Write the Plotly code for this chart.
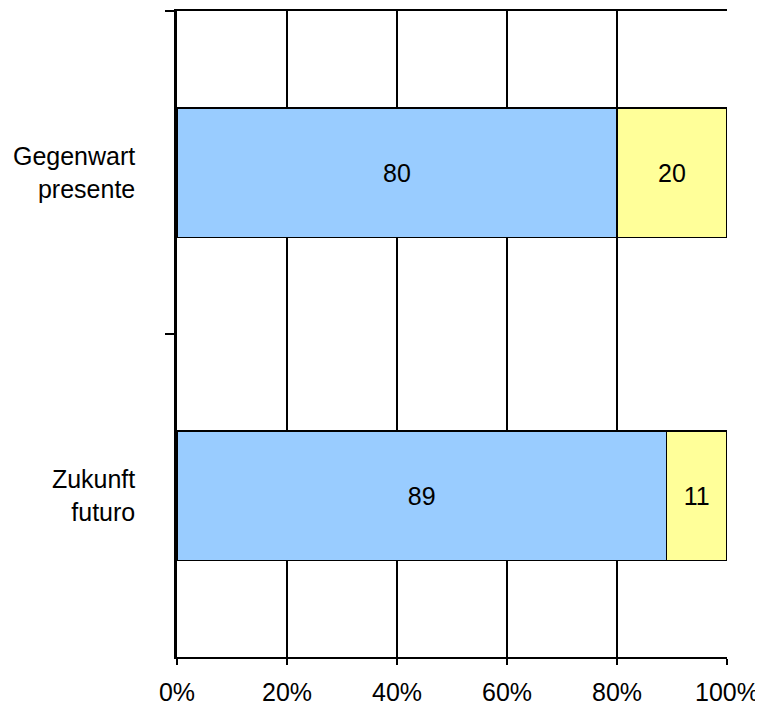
import plotly.graph_objects as go

categories = ['Gegenwart<br>presente', 'Zukunft<br>futuro']
blue_values = [80, 89]
yellow_values = [20, 11]
x_ticks = [0, 20, 40, 60, 80, 100]
x_tick_labels = ['0%', '20%', '40%', '60%', '80%', '100%']

fig = go.Figure()
fig.add_trace(go.Bar(
	y=categories,
	x=blue_values,
	orientation='h',
	marker=dict(color='#99CCFF', line=dict(color='black', width=1.2)),
	text=[str(v) for v in blue_values],
	textposition='inside',
	insidetextanchor='middle',
	textfont=dict(color='black', size=25),
	width=0.4,
))
fig.add_trace(go.Bar(
	y=categories,
	x=yellow_values,
	orientation='h',
	marker=dict(color='#FFFF99', line=dict(color='black', width=1.2)),
	text=[str(v) for v in yellow_values],
	textposition='inside',
	insidetextanchor='middle',
	textfont=dict(color='black', size=25),
	width=0.4,
))

fig.update_xaxes(
	range=[0, 100],
	tickvals=x_ticks,
	ticktext=x_tick_labels,
	showgrid=True,
	gridcolor='black',
	gridwidth=1.5,
	showline=True,
	linecolor='black',
	linewidth=2,
	mirror=True,
	ticks='outside',
	ticklen=6,
	tickcolor='black',
	tickwidth=1.5,
	ticklabelstandoff=6,
	tickfont=dict(size=25, color='black'),
	zeroline=False,
)

fig.update_yaxes(
	type='category',
	autorange='reversed',
	tickson='boundaries',
	showgrid=False,
	showline=True,
	linecolor='black',
	linewidth=2.5,
	ticks='outside',
	ticklen=9,
	tickcolor='black',
	tickwidth=2,
	ticklabelstandoff=34,
	tickfont=dict(size=25, color='black'),
)

# page body adds 8px offset, so shrink the figure to fit
fig.update_layout(
	barmode='stack',
	showlegend=False,
	width=755,
	height=699,
	margin=dict(l=169, r=36, t=1, b=50),
	plot_bgcolor='white',
	paper_bgcolor='white',
	font=dict(family='Liberation Sans', color='black'),
	uniformtext=dict(mode='show', minsize=20),
)

fig.write_html("out.html")
